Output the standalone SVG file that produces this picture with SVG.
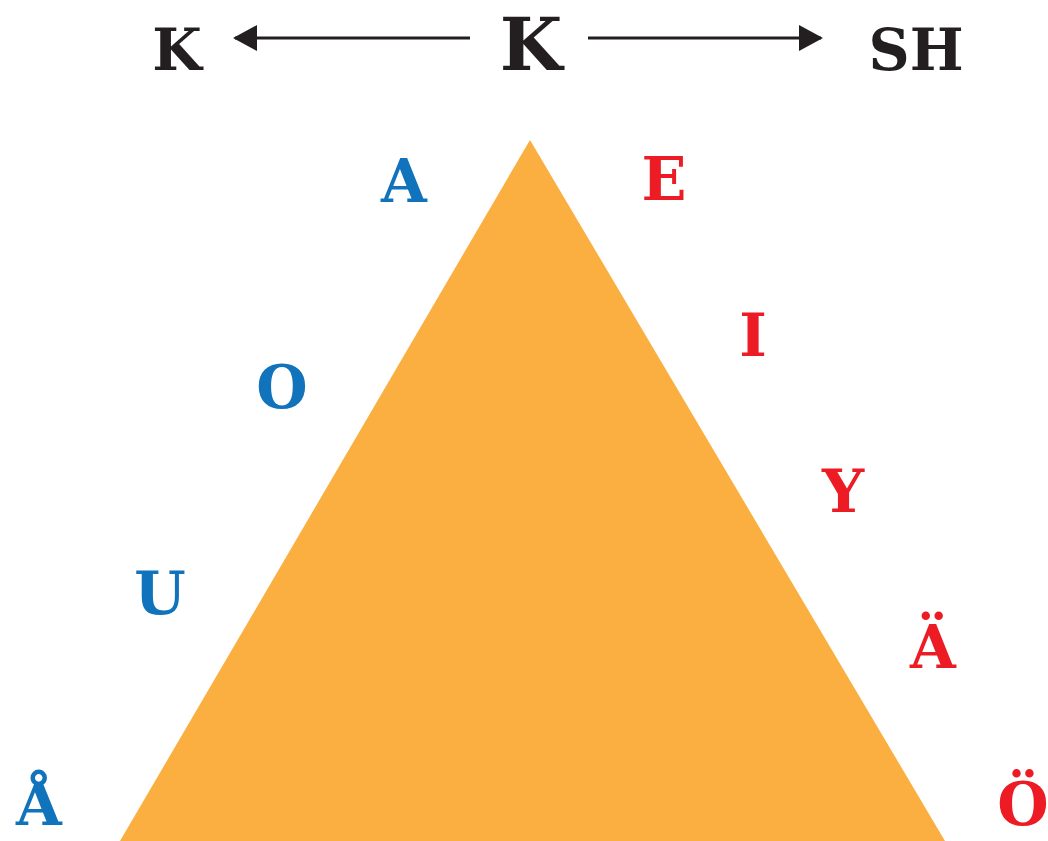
<svg xmlns="http://www.w3.org/2000/svg" width="1048" height="841" viewBox="0 0 1048 841">
<defs>
<style>
text{font-family:"DejaVu Serif","Liberation Serif",serif;font-weight:bold;text-anchor:middle;}
.k{fill:#231F20;font-size:57px;}
.kb{fill:#231F20;font-size:72px;}
.b{fill:#1173BB;font-size:59px;}
.r{fill:#ED1C24;font-size:59px;}
.ln{stroke:#231F20;stroke-width:3;fill:none;}
</style>
<marker id="ah" viewBox="0 0 24 26" refX="22" refY="13" markerWidth="24" markerHeight="26" markerUnits="userSpaceOnUse" orient="auto">
<path d="M0,0 L24,13 L0,26 Z" fill="#231F20"/>
</marker>
</defs>
<rect width="1048" height="841" fill="#ffffff"/>
<g id="triangle"><polygon points="530,140 945,841 120,841" fill="#FAAF40"/></g>
<g id="connectors">
<line class="ln" x1="470" y1="38" x2="235" y2="38" marker-end="url(#ah)"/>
<line class="ln" x1="588" y1="38" x2="821" y2="38" marker-end="url(#ah)"/>
</g>
<g id="node-k-left"><text class="k" x="177" y="70">K</text></g>
<g id="node-k-center"><text class="kb" x="531" y="70">K</text></g>
<g id="node-sh"><text class="k" x="916" y="70">SH</text></g>
<g id="node-a"><text class="b" x="404" y="202">A</text></g>
<g id="node-o"><text class="b" x="282" y="408">O</text></g>
<g id="node-u"><text class="b" x="160" y="614">U</text></g>
<g id="node-aa"><text class="b" x="39" y="825">Å</text></g>
<g id="node-e"><text class="r" x="664" y="200">E</text></g>
<g id="node-i"><text class="r" x="753" y="356">I</text></g>
<g id="node-y"><text class="r" x="843" y="512">Y</text></g>
<g id="node-ae"><text class="r" x="933" y="668">Ä</text></g>
<g id="node-oe"><text class="r" x="1023" y="825">Ö</text></g>
</svg>
